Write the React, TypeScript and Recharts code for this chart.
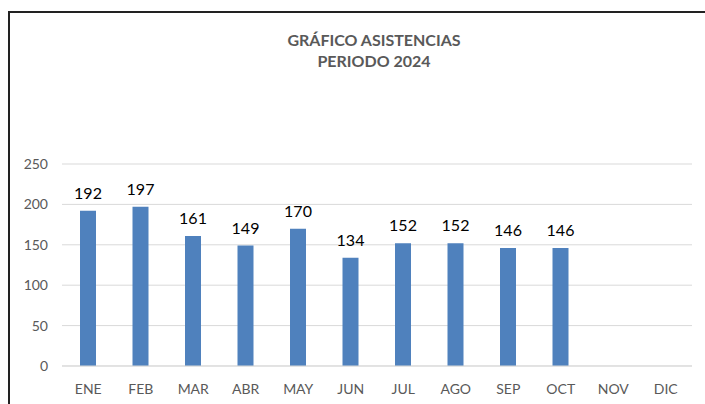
import React from 'react';
import { BarChart, Bar, XAxis, YAxis, CartesianGrid, LabelList } from 'recharts';

// Datos del gráfico
const meses = ['ENE', 'FEB', 'MAR', 'ABR', 'MAY', 'JUN', 'JUL', 'AGO', 'SEP', 'OCT', 'NOV', 'DIC'];
const asistencias: (number | null)[] = [192, 197, 161, 149, 170, 134, 152, 152, 146, 146, null, null];
const yTicks = [0, 50, 100, 150, 200, 250];

const data = meses.map((mes, i) => ({ mes, asistencias: asistencias[i] }));

const gris = '#595959';

export default function App() {
  return (
    <div
      style={{
        position: 'fixed',
        top: 11,
        left: 8,
        width: 695,
        height: 391,
        borderTop: '2px solid #222',
        borderLeft: '2px solid #222',
        fontFamily: 'Lato, sans-serif',
        background: '#fff',
        overflow: 'hidden',
      }}
    >
      {/* Título */}
      <div
        style={{
          position: 'absolute',
          left: 0,
          width: 728,
          top: 16,
          textAlign: 'center',
          color: gris,
          fontWeight: 700,
          fontSize: 16,
          lineHeight: '21px',
        }}
      >
        <div>GRÁFICO ASISTENCIAS</div>
        <div>PERIODO 2024</div>
      </div>

      <BarChart
        width={695}
        height={391}
        data={data}
        margin={{ top: 151, right: 13, left: 0, bottom: 8 }}
      >
        <CartesianGrid vertical={false} stroke="#d9d9d9" />
        <XAxis
          dataKey="mes"
          tickLine={false}
          axisLine={{ stroke: '#d9d9d9' }}
          tick={{ fill: gris, fontSize: 14 }}
          tickMargin={12}
          height={30}
        />
        <YAxis
          ticks={yTicks}
          domain={[0, 250]}
          axisLine={false}
          tickLine={false}
          tickSize={0}
          tickMargin={14}
          width={52}
          tick={{ fill: gris, fontSize: 14 }}
        />
        <Bar dataKey="asistencias" fill="#4f81bd" barSize={16} isAnimationActive={false}>
          <LabelList dataKey="asistencias" position="top" offset={12} fill="#000" fontSize={16} />
        </Bar>
      </BarChart>
    </div>
  );
}
